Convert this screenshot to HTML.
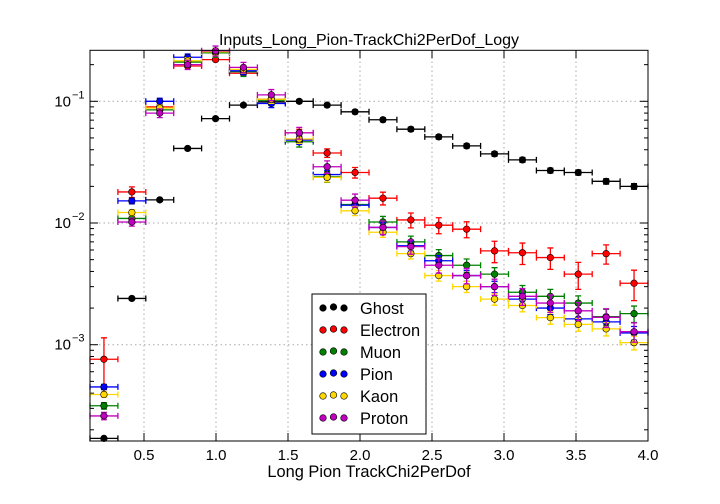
<!DOCTYPE html>
<html><head><meta charset="utf-8"><style>
body{margin:0;background:#fff;}
svg{display:block;font-family:"Liberation Sans","DejaVu Sans",sans-serif;}
</style></head><body>
<svg id="chart" width="720" height="504" viewBox="0 0 720 504">
<rect x="0" y="0" width="720" height="504" fill="#fff"/>
<text x="369" y="45" text-anchor="middle" font-size="16">Inputs_Long_Pion-TrackChi2PerDof_Logy</text>
<text x="369" y="477" text-anchor="middle" font-size="16.4">Long Pion TrackChi2PerDof</text>
<g id="grid"></g><g id="ticks"></g><g id="marks"></g>
<rect x="90" y="50.3" width="558" height="390.7" fill="none" stroke="#000" stroke-width="1"/>
<g id="legend"></g>
</svg>
<script>
const binEdgesMin = 0.125, binWidth = 0.19375;
const seriesNames = ["Ghost","Electron","Muon","Pion","Kaon","Proton"];
const seriesColors = ["#000000","#ff0000","#008000","#0000ff","#ffd700","#bf00bf"];
const ghost = [0.00017,0.0024,0.0155,0.041,0.072,0.093,0.099,0.1,0.093,0.082,0.0705,0.059,0.051,0.043,0.037,0.033,0.027,0.026,0.022,0.020];
const electron = [0.00076,0.018,0.09,0.195,0.22,0.17,0.104,0.055,0.0376,0.026,0.016,0.0106,0.0096,0.0089,0.0059,0.0057,0.0052,0.0038,0.0056,0.0032];
const muon = [0.000315,0.0109,0.085,0.21,0.25,0.175,0.102,0.0465,0.024,0.0142,0.0102,0.0070,0.0054,0.0045,0.0038,0.0027,0.0025,0.0022,0.0017,0.0018];
const pion = [0.00045,0.0152,0.1,0.23,0.255,0.178,0.096,0.048,0.025,0.014,0.0092,0.0065,0.0049,0.0037,0.003,0.00237,0.0020,0.00163,0.00154,0.00125];
const kaon = [0.00039,0.0122,0.088,0.215,0.255,0.183,0.104,0.049,0.0237,0.0126,0.0084,0.0056,0.0037,0.003,0.00237,0.0021,0.00167,0.00147,0.00135,0.00104];
const proton = [0.00026,0.0102,0.080,0.20,0.26,0.19,0.113,0.055,0.029,0.0154,0.0092,0.0064,0.0045,0.0037,0.003,0.0025,0.0022,0.0019,0.00168,0.00128];
const electronRelErr = [0.5,0.1,0.04,0.03,0.03,0.04,0.05,0.07,0.08,0.1,0.12,0.14,0.15,0.15,0.2,0.2,0.2,0.25,0.18,0.28];
const relErr = [0.02,0.12,0.06,0.05,0.05,0.07];
const xTickLabels = ["0.5","1.0","1.5","2.0","2.5","3.0","3.5","4.0"];
const xTickValues = [0.5,1.0,1.5,2.0,2.5,3.0,3.5,4.0];
const yDecades = [-3,-2,-1];

const X0=90,X1=648,Y0=441,Y1=50.3, xmin=0.125,xmax=4.0, lmin=-3.791,lmax=-0.581;
const xs=v=>X0+(v-xmin)/(xmax-xmin)*(X1-X0);
const ys=v=>Y0-(Math.log10(v)-lmin)/(lmax-lmin)*(Y0-Y1);
const NS="http://www.w3.org/2000/svg";
function mk(tag,attrs,parent){const e=document.createElementNS(NS,tag);for(const k in attrs)e.setAttribute(k,attrs[k]);parent.appendChild(e);return e;}
const grid=document.getElementById('grid'),ticks=document.getElementById('ticks'),marks=document.getElementById('marks'),legend=document.getElementById('legend');

xTickValues.forEach((v,i)=>{
  const x=xs(v);
  if(v<xmax){const g=mk('line',{x1:x,x2:x,y1:Y0,y2:Y1,stroke:'#aaa','stroke-dasharray':'1.5,3'},grid);
  
  }
  const t1=mk('line',{x1:x,x2:x,y1:Y0,y2:Y0-8,stroke:'#000'},ticks);
  
  
  const t2=mk('line',{x1:x,x2:x,y1:Y1,y2:Y1+8,stroke:'#000'},ticks);
  
  
  const l=mk('text',{x:x,y:Y0+19,'text-anchor':'middle','font-size':'15'},ticks);
  l.textContent=xTickLabels[i];
  
  
});
for(let d=-4;d<=0;d++){
  for(let m=1;m<10;m++){
    const v=m*Math.pow(10,d);const lg=Math.log10(v);
    if(lg<lmin||lg>lmax)continue;
    const y=ys(v);const len=m===1?8:4;
    const a=mk('line',{x1:X0,x2:X0+len,y1:y,y2:y,stroke:'#000'},ticks);
    
    
    const b=mk('line',{x1:X1,x2:X1-len,y1:y,y2:y,stroke:'#000'},ticks);
    
    
  }
}
yDecades.forEach(d=>{
  const y=ys(Math.pow(10,d));
  const g=mk('line',{x1:X0,x2:X1,y1:y,y2:y,stroke:'#aaa','stroke-dasharray':'1.5,3'},grid);
  
  
  const t=mk('text',{x:71,y:y+5,'text-anchor':'end','font-size':'15'},ticks);
  t.textContent='10';
  
  
  const s=mk('text',{x:72,y:y-3,'font-size':'11'},ticks);
  s.textContent=String(d).replace('-','\u2212');
  
  
});

const allSeries=[ghost,electron,muon,pion,kaon,proton];
allSeries.forEach((arr,si)=>{
  const c=seriesColors[si];
  const g=mk('g',{},marks);
  
  
  arr.forEach((v,i)=>{
    const lo=xmin+i*binWidth,hi=lo+binWidth,cx=xs(lo+binWidth/2),cy=ys(v);
    const xl=xs(lo),xr=xs(hi);
    const r=si===1?electronRelErr[i]:relErr[si]*(1+i/12);
    const eu=v*(1+r),ed=Math.max(v*(1-r),1.7e-4);
    const eb=mk('path',{d:`M${xl},${cy}H${xr}M${xl},${cy-3}V${cy+3}M${xr},${cy-3}V${cy+3}M${cx},${ys(eu)}V${ys(ed)}M${cx-3},${ys(eu)}H${cx+3}M${cx-3},${ys(ed)}H${cx+3}`,stroke:c,'stroke-width':'1.3',fill:'none'},g);
    
    
    const p=mk('circle',{cx:cx,cy:cy,r:3.3,fill:c,stroke:'#000','stroke-width':'0.6'},g);
    
    
  });
});

const lb=mk('rect',{x:312,y:294,width:114,height:140,fill:'#fff',stroke:'#000','stroke-width':'1'},legend);


seriesNames.forEach((n,i)=>{
  const y=308+i*22;
  const g=mk('g',{},legend);
  
  
  [[323,y],[333.5,y-1],[344,y]].forEach(([x,yy])=>{
    const c=mk('circle',{cx:x,cy:yy,r:3.3,fill:seriesColors[i],stroke:'#000','stroke-width':'0.6'},g);
    
    
  });
  const t=mk('text',{x:360,y:y+6,'font-size':'16.4'},g);
  t.textContent=n;
  
  
});
</script>
</body></html>
